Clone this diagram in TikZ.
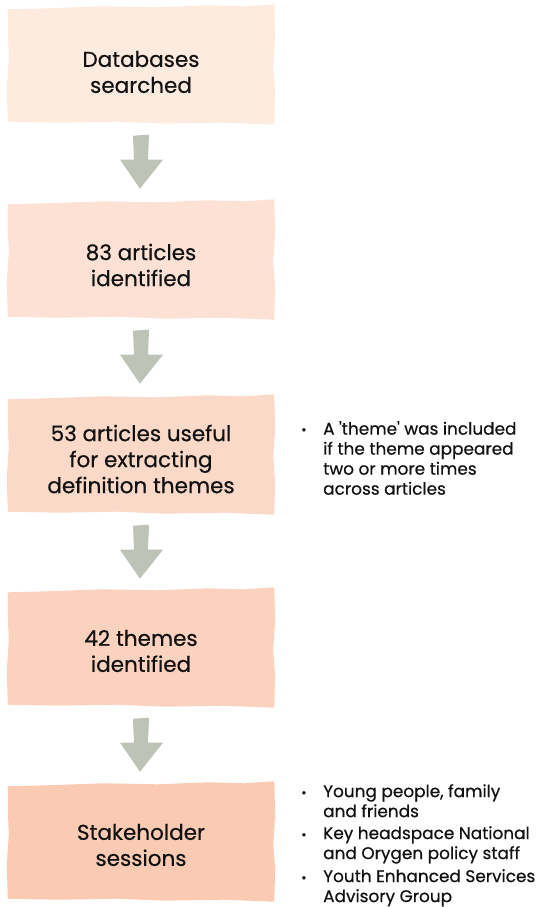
\documentclass[tikz,border=0pt]{standalone}
\usepackage{fontspec}
\setmainfont{Poppins}[FakeBold=0.5]
\usetikzlibrary{calc,backgrounds}

\definecolor{boxA}{HTML}{FDEBE0}
\definecolor{boxB}{HTML}{FCE1D4}
\definecolor{boxC}{HTML}{FBD9C8}
\definecolor{boxD}{HTML}{FBD2BE}
\definecolor{boxE}{HTML}{FBCAB3}
\definecolor{arrowc}{HTML}{BDC3B6}
\definecolor{inkc}{HTML}{111111}

% hand-torn looking box around node #1, filled with #2
\newcommand{\tornbox}[2]{%
  \fill[#2]
    ($(#1.north west)+(0,2)$) -- ($(#1.north west)+(40,1)$) -- ($(#1.north west)+(95,-1)$)
    -- ($(#1.north west)+(150,0)$) -- ($(#1.north west)+(200,-2)$) -- ($(#1.north east)+(-30,-1)$)
    -- ($(#1.north east)+(0,-3)$)
    -- ($(#1.north east)+(1,30)$) -- ($(#1.north east)+(-1,60)$) -- ($(#1.south east)+(1,-30)$)
    -- ($(#1.south east)+(0,2)$)
    -- ($(#1.south east)+(-50,0)$) -- ($(#1.south east)+(-110,1)$) -- ($(#1.south west)+(110,-1)$)
    -- ($(#1.south west)+(50,0)$) -- ($(#1.south west)+(0,-1)$)
    -- ($(#1.south west)+(-1,-35)$) -- ($(#1.north west)+(1,50)$) -- ($(#1.north west)+(0,25)$)
    -- cycle;}

% block arrow from the bottom of box #1 towards box #2
\newcommand{\flowarrow}[2]{%
  \fill[arrowc]
    ($(#1.south)+(-8,13)$) -- ($(#1.south)+(8,12)$) -- ($(#1.south)+(7,37)$)
    -- ($(#1.south)+(22,37)$) -- ($(#1.south)+(-1,66)$) -- ($(#1.south)+(-21,37)$)
    -- ($(#1.south)+(-7,37)$) -- cycle;}

\begin{document}
\begin{tikzpicture}[x=1pt,y=-1pt,
  boxshape/.style={minimum width=266pt, minimum height=115pt, inner sep=0pt},
  boxtext/.style={align=center, font=\fontsize{21.5}{26}\selectfont, text=inkc, inner sep=0pt},
  note/.style={anchor=north west, align=left,
    font=\fontsize{16.9}{20}\selectfont, text=inkc, inner sep=0pt},
  dot/.style={anchor=north west, font=\fontsize{13}{20}\selectfont, text=inkc, inner sep=0pt}]
\useasboundingbox (0,0) rectangle (544,907);

% box outlines (empty shapes used for placement)
\node[boxshape] (b1) at (141,65) {};
\node[boxshape] (b2) at (141,260) {};
\node[boxshape] (b3) at (141,455) {};
\node[boxshape] (b4) at (141,648) {};
\node[boxshape] (b5) at (141,842) {};

\node[boxtext] (t1) at ($(b1)+(0,7)$) {Databases\\searched};
\node[boxtext] (t2) at ($(b2)+(0,5)$) {83 articles\\identified};
\node[boxtext] (t3) at ($(b3)+(0,4)$) {53 articles useful\\for extracting\\definition themes};
\node[boxtext] (t4) at ($(b4)+(0,3)$) {42 themes\\identified};
\node[boxtext] (t5) at ($(b5)+(0,3)$) {Stakeholder\\sessions};

% side notes
\node[note] (n1) at (323,421) {A \textquotesingle theme\textquotesingle{} was included\\if the theme appeared\\two or more times\\across articles};
\node[dot] (d1) at (301,428) {•};

\node[note] (n2) at (323,784) {Young people, family\\and friends};
\node[dot] (d2) at (301,791) {•};
\node[note] (n3) at (323,826) {Key headspace National\\and Orygen policy staff};
\node[dot] (d3) at (301,833) {•};
\node[note] (n4) at (323,869) {Youth Enhanced Services\\Advisory Group};
\node[dot] (d4) at (301,876) {•};

\begin{scope}[on background layer]
  \tornbox{b1}{boxA}
  \tornbox{b2}{boxB}
  \tornbox{b3}{boxC}
  \tornbox{b4}{boxD}
  \tornbox{b5}{boxE}
  \flowarrow{b1}{b2}
  \flowarrow{b2}{b3}
  \flowarrow{b3}{b4}
  \flowarrow{b4}{b5}
\end{scope}
\end{tikzpicture}
\end{document}
